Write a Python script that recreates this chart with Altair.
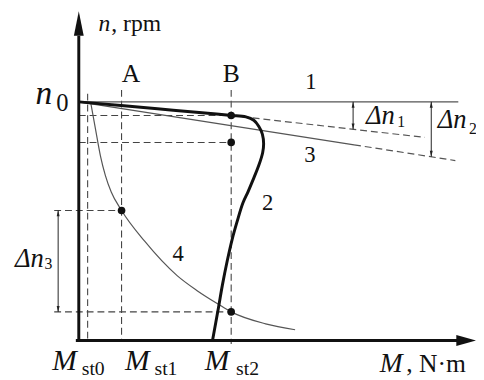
import altair as alt
import pandas as pd

# ---------------- values ----------------
# M: torque (arbitrary units), n: speed (rpm, n0 = 1000)
N0 = 1000
M_ST = [0.9, 4.35, 15.5]            # M_st0, M_st1, M_st2
ST_SUB = ["st0", "st1", "st2"]

# 1: ideal horizontal characteristic
c1_M = [0, 38.6]
c1_n = [1000, 1000]

# 2: thick characteristic
c2_M = [0, 8.0, 14.0, 15.5, 17.0, 17.8, 18.3, 18.67, 18.8, 18.7, 18.3, 17.7,
        17.2, 16.7, 16.1, 15.6, 15.1, 14.6, 14.2, 13.6]
c2_n = [1000, 971, 949, 943, 937, 923, 898, 865, 824, 787, 733, 671,
        622, 577, 498, 424, 334, 231, 136, 0]

# extension of 2 (dashed)
ext2_M = [15.5, 35.2]
ext2_n = [943, 851]

# 3: thin characteristic (solid part, dashed part)
c3s_M = [0, 28.0]
c3s_n = [1000, 820]
c3d_M = [28.0, 38.3]
c3d_n = [820, 754]

# 4: hyperbolic characteristic
c4_M = [1.2, 1.7, 2.2, 2.7, 3.3, 4.35, 6.7, 10.0, 12.0, 14.2, 15.5, 19.0, 22.0]
c4_n = [1000, 886, 774, 692, 622, 545, 416, 272, 210, 152, 120, 70, 45]

# marked points
pt_M = [15.5, 15.5, 4.35, 15.5]
pt_n = [943, 830, 545, 120]

# dashed guide segments (M, n, M2, n2)
g_M = [0.9, 4.35, 15.5, 0, 0, -2.5, -2.5]
g_n = [1034, 1050, 1050, 943, 830, 545, 120]
g_M2 = [0.9, 4.35, 15.5, 15.5, 15.5, 4.35, 15.5]
g_n2 = [0, 0, -15, 943, 830, 545, 120]

# dimension lines  Δn1, Δn2, Δn3
d_M = [27.9, 35.85, -2.1]
d_top = [1000, 1000, 545]
d_bot = [885, 770, 120]

# ---------------- scales ----------------
X = dict(scale=alt.Scale(domain=[0, 40.4], nice=False, zero=False), axis=None)
Y = dict(scale=alt.Scale(domain=[0, 1380], nice=False, zero=False), axis=None)
PX_N = 1380 / 335          # n units per pixel (for tiny offsets)


def xe(f="M"):
    return alt.X(f"{f}:Q", **X)


def ye(f="n"):
    return alt.Y(f"{f}:Q", **Y)


def seg_df(M, n):
    return pd.DataFrame({"M": M, "n": n, "i": range(len(M))})


SERIF = "Liberation Serif"
INK = "#222222"
THIN = "#555555"

layers = []

# guide dashed lines
gdf = pd.DataFrame({"M": g_M, "n": g_n, "M2": g_M2, "n2": g_n2})
layers.append(alt.Chart(gdf).mark_rule(color="#444444", strokeWidth=1.1, strokeDash=[7, 4]).encode(
    x=xe(), y=ye(), x2="M2:Q", y2="n2:Q"))

# line 1
layers.append(alt.Chart(seg_df(c1_M, c1_n)).mark_line(color=THIN, strokeWidth=1.3).encode(
    x=xe(), y=ye(), order="i:Q"))
# line 3
layers.append(alt.Chart(seg_df(c3s_M, c3s_n)).mark_line(color=THIN, strokeWidth=1.3).encode(
    x=xe(), y=ye(), order="i:Q"))
layers.append(alt.Chart(seg_df(c3d_M, c3d_n)).mark_line(color=THIN, strokeWidth=1.2, strokeDash=[7, 4]).encode(
    x=xe(), y=ye(), order="i:Q"))
# extension of 2
layers.append(alt.Chart(seg_df(ext2_M, ext2_n)).mark_line(color=THIN, strokeWidth=1.2, strokeDash=[7, 4]).encode(
    x=xe(), y=ye(), order="i:Q"))
# line 4
layers.append(alt.Chart(seg_df(c4_M, c4_n)).mark_line(color=THIN, strokeWidth=1.2, interpolate="monotone").encode(
    x=xe(), y=ye(), order="i:Q"))
# line 2 (thick)
layers.append(alt.Chart(seg_df(c2_M, c2_n)).mark_line(color="#111111", strokeWidth=3, interpolate="catmull-rom").encode(
    x=xe(), y=ye(), order="i:Q"))

# dimension lines
ddf = pd.DataFrame({"M": d_M, "n": d_top, "n2": d_bot})
layers.append(alt.Chart(ddf).mark_rule(color=INK, strokeWidth=1).encode(x=xe(), y=ye(), y2="n2:Q"))
tip_up = pd.DataFrame({"M": d_M, "n": [t - 3 * PX_N for t in d_top]})
tip_dn = pd.DataFrame({"M": d_M, "n": [b + 3 * PX_N for b in d_bot]})
layers.append(alt.Chart(tip_up).mark_point(shape="M0,-1L0.5,1L-0.5,1Z", size=36, filled=True, color=INK, opacity=1).encode(x=xe(), y=ye()))
layers.append(alt.Chart(tip_dn).mark_point(shape="M0,1L0.5,-1L-0.5,-1Z", size=36, filled=True, color=INK, opacity=1).encode(x=xe(), y=ye()))

# axes with arrows
axdf = pd.DataFrame({"M": [0, -0.3], "n": [-5, 0], "M2": [0, 38.6], "n2": [1277, 0]})
layers.append(alt.Chart(axdf).mark_rule(color="#111111", strokeWidth=3).encode(x=xe(), y=ye(), x2="M2:Q", y2="n2:Q"))
layers.append(alt.Chart(pd.DataFrame({"M": [0], "n": [1328]})).mark_point(
    shape="M0,-1L0.4,1L-0.4,1Z", size=625, filled=True, color="#111111", opacity=1).encode(x=xe(), y=ye()))
layers.append(alt.Chart(pd.DataFrame({"M": [39.4], "n": [0]})).mark_point(
    shape="M1,0L-1,0.55L-1,-0.55Z", size=400, filled=True, color="#111111", opacity=1).encode(x=xe(), y=ye()))

# marked points
layers.append(alt.Chart(pd.DataFrame({"M": pt_M, "n": pt_n})).mark_circle(size=60, color="#111111", opacity=1).encode(x=xe(), y=ye()))


# ---------------- text ----------------
def txt(labels, M, n, size, italic=False, align="left"):
    df = pd.DataFrame({"t": labels, "M": M, "n": n})
    kw = dict(font=SERIF, fontSize=size, color="#111111", align=align, baseline="alphabetic")
    if italic:
        kw["fontStyle"] = "italic"
    return alt.Chart(df).mark_text(**kw).encode(x=xe(), y=ye(), text="t:N")


# axis titles
layers.append(txt(["n"], [2.0], [1298], 24, italic=True))
layers.append(txt([", rpm"], [3.3], [1298], 24))
layers.append(txt(["M"], [30.6], [-132], 28, italic=True))
layers.append(txt([", N\u00b7m"], [33.3], [-132], 26))
# n0
layers.append(txt(["n"], [-4.4], [993], 34, italic=True))
layers.append(txt(["0"], [-2.3], [960], 25))
# A, B
layers.append(txt(["A", "B"], [5.3, 15.5], [1083, 1083], 26, align="center"))
# curve numbers
layers.append(txt(["1", "2", "3", "4"], [23.6, 19.2, 23.5, 10.1], [1055, 548, 746, 334], 23, align="center"))
# M_st labels
layers.append(txt(["M", "M", "M"], [-2.7, 4.7, 12.8], [-124, -124, -124], 30, italic=True))
layers.append(txt(ST_SUB, [0.3, 7.7, 16.0], [-144, -144, -144], 20))
# Δn labels
layers.append(txt(["\u0394n", "\u0394n", "\u0394n"], [29.2, 36.5, -6.5], [906, 890, 309], 27, italic=True))
layers.append(txt(["1", "2", "3"], [32.4, 39.7, -3.5], [894, 865, 301], 16))

chart = alt.layer(*layers).properties(
    width=404, height=335,
    autosize=alt.AutoSizeParams(type="none"),
    padding={"left": 72, "top": 0, "right": 0, "bottom": 40},
).configure_view(strokeWidth=0)

chart.save("out.html", embed_options={"renderer": "svg", "actions": False})
